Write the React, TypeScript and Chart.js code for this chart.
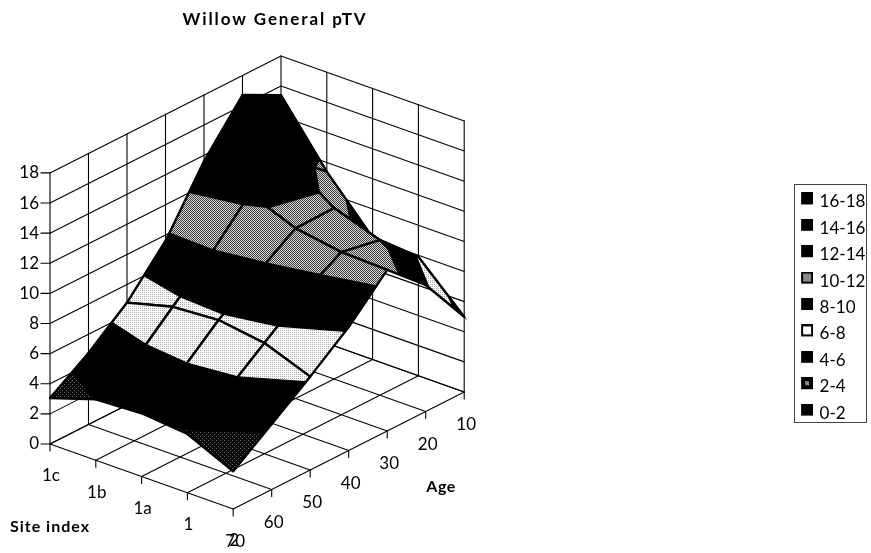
import React, { useEffect, useRef } from "react";
import { Chart, registerables } from "chart.js";

Chart.register(...registerables);

// ---- data ----
const siteLabels = ["1c", "1b", "1a", "1", "2"];
const ageLabels = ["70", "60", "50", "40", "30", "20", "10"];
const site1c = [3.05, 4.75, 6.8, 9.6, 13.6, 16.7, 15.4];
const site1b = [4.05, 5.3, 7.6, 9.85, 12.5, 13.5, 11.4];
const site1a = [4.2, 5.6, 7.8, 9.6, 11.3, 11.35, 8.1];
const site1 = [3.9, 5.4, 7.35, 9.3, 10.8, 10.3, 7.9];
const site2 = [2.5, 4.35, 6.2, 8.2, 10.7, 8.4, 5.0];
const zTicks = [0, 2, 4, 6, 8, 10, 12, 14, 16, 18];
const bandLabels = ["16-18", "14-16", "12-14", "10-12", "8-10", "6-8", "4-6", "2-4", "0-2"];
const bandKinds = ["black", "black", "black", "mid", "black", "light", "black", "dark", "black"];
const title = "Willow General pTV";
const siteTitle = "Site index";
const ageTitle = "Age";

const surface = [site1c, site1b, site1a, site1, site2];

// ---- oblique projection of the 3D box ----
const W = 871, H = 553;
const OX = 50, OY = 444, SX = 45.8, SY = 16.25, AX = 38.5, AY = -19.5, ZU = 15.06;
const project = (i: number, k: number, z: number) => ({
  x: OX + i * SX + k * AX,
  y: OY + i * SY + k * AY - z * ZU,
});

type V = { i: number; k: number; z: number };

function clip(poly: V[], lim: number, above: boolean): V[] {
  const out: V[] = [];
  const inside = (v: V) => (above ? v.z >= lim : v.z <= lim);
  poly.forEach((a, n) => {
    const b = poly[(n + 1) % poly.length];
    if (inside(a)) out.push(a);
    if (inside(a) !== inside(b)) {
      const t = (lim - a.z) / (b.z - a.z);
      out.push({ i: a.i + (b.i - a.i) * t, k: a.k + (b.k - a.k) * t, z: lim });
    }
  });
  return out;
}

function makePattern(kind: string): CanvasPattern | string {
  if (kind === "black") return "#000";
  const c = document.createElement("canvas");
  const s = kind === "mid" ? 2 : 4;
  c.width = s;
  c.height = s;
  const g = c.getContext("2d")!;
  if (kind === "mid") {
    g.fillStyle = "#d8d8d8";
    g.fillRect(0, 0, 2, 2);
    g.fillStyle = "#3c3c3c";
    g.fillRect(0, 0, 1, 1);
    g.fillRect(1, 1, 1, 1);
  } else if (kind === "dark") {
    g.fillStyle = "#080808";
    g.fillRect(0, 0, 4, 4);
    g.fillStyle = "#6c6c6c";
    g.fillRect(0, 0, 1, 1);
    g.fillRect(2, 2, 1, 1);
  } else {
    g.fillStyle = "#fff";
    g.fillRect(0, 0, 4, 4);
    g.fillStyle = "#a8a8a8";
    g.fillRect(0, 0, 1, 1);
    g.fillRect(2, 2, 1, 1);
    g.fillRect(2, 0, 1, 1);
    g.fillRect(0, 2, 1, 1);
  }
  return g.createPattern(c, "repeat")!;
}

function makeSwatch(kind: string): HTMLCanvasElement {
  const c = document.createElement("canvas");
  c.width = 13;
  c.height = 19;
  const g = c.getContext("2d")!;
  g.fillStyle = "#000";
  g.fillRect(1, 0, 12, 12);
  if (kind === "light") {
    g.fillStyle = "#fff";
    g.fillRect(3, 2, 8, 8);
  } else if (kind === "mid") {
    g.fillStyle = makePattern("mid") as CanvasPattern;
    g.fillRect(3, 2, 8, 8);
  } else if (kind === "dark") {
    g.fillStyle = makePattern("mid") as CanvasPattern;
    g.fillRect(5, 4, 4, 4);
  }
  return c;
}

function buildDatasets() {
  const list: any[] = [];
  const line = (pts: { x: number; y: number }[], width: number, color = "#000") => ({
    data: pts,
    showLine: true,
    fill: false,
    borderColor: color,
    borderWidth: width,
    pointRadius: 0,
    tension: 0,
    clip: false,
    borderJoinStyle: "round",
    borderCapStyle: "round",
  });
  const nI = siteLabels.length - 1;
  const nK = ageLabels.length - 1;
  const top = zTicks[zTicks.length - 1];

  // floor
  for (let i = 0; i <= nI; i++) list.push(line([project(i, 0, 0), project(i, nK, 0)], 1.1));
  for (let k = 0; k <= nK; k++) list.push(line([project(0, k, 0), project(nI, k, 0)], 1.1));
  // walls
  zTicks.forEach((z) => {
    list.push(line([project(0, 0, z), project(0, nK, z), project(nI, nK, z)], 1.1));
    const p = project(0, 0, z);
    list.push(line([{ x: p.x - 9, y: p.y }, p], 1.1));
  });
  for (let k = 0; k <= nK; k++) list.push(line([project(0, k, 0), project(0, k, top)], 1.1));
  for (let i = 1; i <= nI; i++) list.push(line([project(i, nK, 0), project(i, nK, top)], 1.1));
  // floor ticks
  for (let i = 0; i <= nI; i++) {
    const p = project(i, 0, 0);
    list.push(line([p, { x: p.x, y: p.y + 7 }], 1.1));
  }
  for (let k = 1; k <= nK; k++) {
    const p = project(nI, k, 0);
    list.push(line([p, { x: p.x, y: p.y + 7 }], 1.1));
  }

  // surface, back to front
  const fills = bandKinds.map((b) => makePattern(b));
  for (let k = nK - 1; k >= 0; k--) {
    for (let i = 0; i < nI; i++) {
      const quad: V[] = [
        { i, k, z: surface[i][k] },
        { i: i + 1, k, z: surface[i + 1][k] },
        { i: i + 1, k: k + 1, z: surface[i + 1][k + 1] },
        { i, k: k + 1, z: surface[i][k + 1] },
      ];
      bandLabels.forEach((lab, b) => {
        const [lo, hi] = lab.split("-").map(Number);
        const poly = clip(clip(quad, lo, true), hi, false);
        if (poly.length < 3) return;
        const pts = poly.map((v) => project(v.i, v.k, v.z));
        pts.push(pts[0]);
        const solid = bandKinds[b] === "black";
        list.push({
          data: pts,
          showLine: true,
          fill: "shape",
          backgroundColor: fills[b],
          borderColor: "#000",
          borderWidth: solid ? 1.2 : 0,
          pointRadius: 0,
          tension: 0,
          clip: false,
        });
      });
      const outline = quad.map((v) => project(v.i, v.k, v.z));
      outline.push(outline[0]);
      list.push(line(outline, 2.4));
    }
  }
  // Chart.js paints the first dataset last
  return list.reverse();
}

const textPlugin = {
  id: "boxText",
  afterLayout(chart: any) {
    const lg = chart.legend;
    const h = lg.height;
    lg.left = 792.7;
    lg.right = lg.left + lg.width;
    lg.top = 184;
    lg.bottom = lg.top + h;
  },
  afterDraw(chart: any) {
    const { ctx, scales } = chart;
    const px = (p: { x: number; y: number }) => ({
      x: scales.x.getPixelForValue(p.x),
      y: scales.y.getPixelForValue(p.y),
    });
    const put = (t: string, p: { x: number; y: number }, font: string, spacing = "0px") => {
      ctx.font = font;
      (ctx as any).letterSpacing = spacing;
      ctx.fillStyle = "#000";
      ctx.textAlign = "center";
      ctx.textBaseline = "middle";
      const q = px(p);
      ctx.fillText(t, q.x, q.y);
    };
    ctx.save();
    const nI = siteLabels.length - 1;
    const small = "17px Lato";
    siteLabels.forEach((s, i) => {
      const p = project(i, 0, 0);
      put(s, { x: p.x + 1, y: p.y + 32 }, small);
    });
    ageLabels.forEach((s, k) => {
      const p = project(nI, k, 0);
      put(s, { x: p.x + 2, y: p.y + 33 }, small);
    });
    put(title, { x: 275, y: 20 }, "bold 17px Lato", "1.9px");
    put(siteTitle, { x: 50, y: 527 }, "bold 16px Lato", "1px");
    put(ageTitle, { x: 441, y: 487 }, "bold 16px Lato", "0.5px");
    (ctx as any).letterSpacing = "0px";
    ctx.strokeStyle = "#444";
    ctx.lineWidth = 1;
    ctx.strokeRect(794.5, 184.5, 72, 238);
    ctx.restore();
  },
};

export default function App() {
  const ref = useRef<HTMLCanvasElement>(null);
  useEffect(() => {
    const swatches = bandKinds.map(makeSwatch);
    const chart = new Chart(ref.current!, {
      type: "scatter",
      data: { datasets: buildDatasets() },
      plugins: [textPlugin],
      options: {
        animation: false,
        responsive: false,
        layout: { padding: 0, autoPadding: false },
        scales: {
          x: { type: "linear", display: false, min: 0, max: W },
          y: { type: "linear", display: false, min: 0, max: H, reverse: true },
          z: {
            type: "linear",
            axis: "y",
            position: { x: 39 },
            min: (OY - H) / ZU,
            max: OY / ZU,
            grid: { display: false },
            border: { display: false },
            ticks: { color: "#000", font: { family: "Lato", size: 17 }, padding: 0, autoSkip: false },
            afterBuildTicks(axis: any) {
              axis.ticks = zTicks.map((value) => ({ value }));
            },
            afterFit(axis: any) {
              axis.paddingTop = 0;
              axis.paddingBottom = 0;
              axis.paddingLeft = 0;
              axis.paddingRight = 0;
            },
          },
        },
        plugins: {
          tooltip: { enabled: false },
          title: { display: false },
          legend: {
            display: true,
            position: "chartArea",
            align: "start",
            onClick: () => {},
            labels: {
              usePointStyle: true,
              boxWidth: 9,
              boxHeight: 11,
              padding: 9.4,
              color: "#000",
              font: { family: "Lato", size: 17 },
              generateLabels: () =>
                bandLabels.map((text, n) => ({
                  text,
                  pointStyle: swatches[n],
                  fontColor: "#000",
                  hidden: false,
                  lineWidth: 0,
                })),
            },
          },
        },
      } as any,
    } as any);
    return () => chart.destroy();
  }, []);
  return (
    <div style={{ position: "absolute", left: 0, top: 0, width: W, height: H, background: "#fff" }}>
      <canvas ref={ref} width={W} height={H} style={{ display: "block" }} />
    </div>
  );
}
